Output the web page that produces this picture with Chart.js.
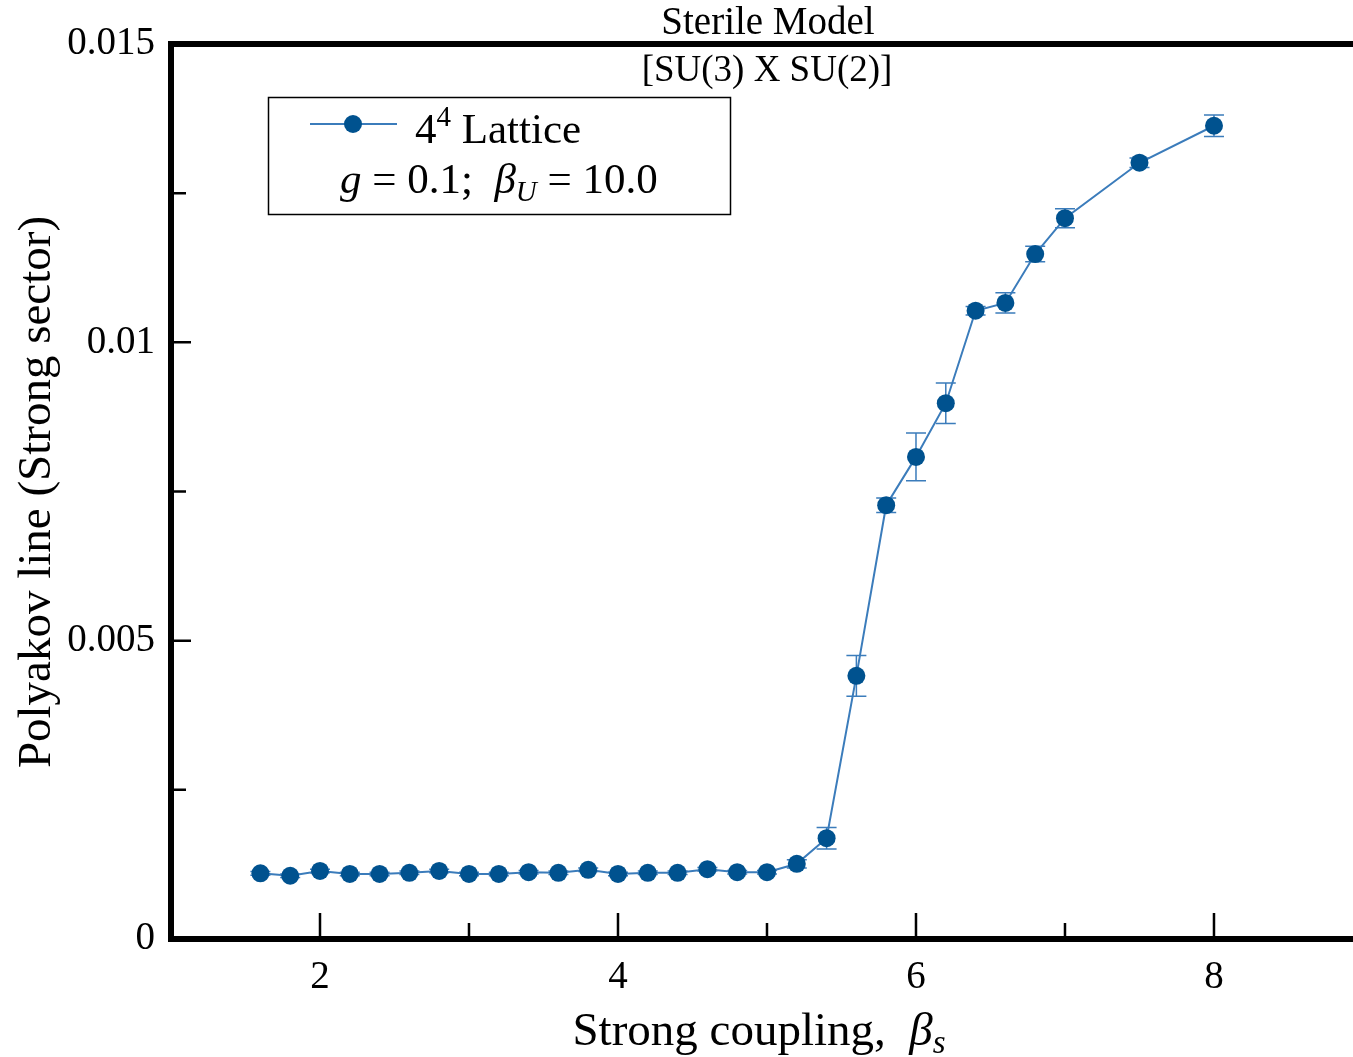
<!DOCTYPE html>
<html>
<head>
<meta charset="utf-8">
<script src="https://cdn.jsdelivr.net/npm/chart.js@4.4.0/dist/chart.umd.min.js"></script>
<style>
  html, body { margin: 0; padding: 0; background: #ffffff; }
  canvas { display: block; }
</style>
</head>
<body>
<canvas id="chart" width="1353" height="1057"></canvas>
<script>
// Strong coupling values and measured Polyakov line (strong sector) with errors
const betaS = [1.6, 1.8, 2.0, 2.2, 2.4, 2.6, 2.8, 3.0, 3.2, 3.4, 3.6, 3.8, 4.0, 4.2, 4.4,
               4.6, 4.8, 5.0, 5.2, 5.4, 5.6, 5.8, 6.0, 6.2, 6.4, 6.6, 6.8, 7.0, 7.5, 8.0];
const polyakov = [0.00110, 0.00106, 0.00114, 0.00109, 0.00109, 0.00111, 0.00114, 0.00109,
                  0.00109, 0.00112, 0.00111, 0.00116, 0.00109, 0.00111, 0.00111, 0.00117,
                  0.00112, 0.00112, 0.00126, 0.00169, 0.00441, 0.00727, 0.00808, 0.00898,
                  0.01053, 0.01066, 0.01148, 0.01208, 0.01301, 0.01363];
const polyakovErr = [0.00003, 0.00003, 0.00003, 0.00003, 0.00003, 0.00003, 0.00003, 0.00003,
                     0.00003, 0.00003, 0.00003, 0.00003, 0.00003, 0.00003, 0.00003, 0.00003,
                     0.00003, 0.00003, 0.00007, 0.00018, 0.00034, 0.00012, 0.00040, 0.00034,
                     0.00007, 0.00017, 0.00013, 0.00016, 0.00008, 0.00018];

// Axis ticks
const xMajorTicks = [2, 4, 6, 8];
const xTickLabels = ['2', '4', '6', '8'];
const xMinorTicks = [3, 5, 7];
const yMajorTicks = [0, 0.005, 0.01, 0.015];
const yTickLabels = ['0', '0.005', '0.01', '0.015'];
const yMinorTicks = [0.0025, 0.0075, 0.0125];

const markerColor = '#00528f';
const lineColor = '#3b7cbb';
const SERIF = '"Liberation Serif", "Times New Roman", serif';

Chart.defaults.font.family = SERIF;
Chart.defaults.color = '#000';

// Vertical error bars, drawn beneath the markers
const errorBars = {
  id: 'errorBars',
  beforeDatasetsDraw(chart) {
    const { ctx, scales: { x, y } } = chart;
    ctx.save();
    ctx.strokeStyle = lineColor;
    ctx.lineWidth = 1.5;
    betaS.forEach((b, i) => {
      const px = x.getPixelForValue(b);
      const lo = y.getPixelForValue(polyakov[i] - polyakovErr[i]);
      const hi = y.getPixelForValue(polyakov[i] + polyakovErr[i]);
      ctx.beginPath();
      ctx.moveTo(px, lo); ctx.lineTo(px, hi);
      ctx.moveTo(px - 10, lo); ctx.lineTo(px + 10, lo);
      ctx.moveTo(px - 10, hi); ctx.lineTo(px + 10, hi);
      ctx.stroke();
    });
    ctx.restore();
  }
};

// draw a run of text pieces with individual fonts and baseline shifts
function drawRuns(ctx, runs, x, y) {
  let cx = x;
  runs.forEach(r => {
    ctx.font = r.font;
    ctx.fillText(r.text, cx, y + (r.dy || 0));
    cx += ctx.measureText(r.text).width;
  });
  return cx;
}
function runsWidth(ctx, runs) {
  let w = 0;
  runs.forEach(r => { ctx.font = r.font; w += ctx.measureText(r.text).width; });
  return w;
}

// Frame, inward ticks, titles and legend
const decorations = {
  id: 'decorations',
  afterDraw(chart) {
    const { ctx, chartArea: a, scales: { x, y } } = chart;
    ctx.save();

    // thick frame: left, bottom, top
    ctx.strokeStyle = '#000';
    ctx.lineWidth = 6;
    ctx.lineCap = 'butt';
    ctx.beginPath();
    ctx.moveTo(a.left, a.top - 3); ctx.lineTo(a.left, a.bottom + 3);
    ctx.moveTo(a.left - 3, a.bottom); ctx.lineTo(chart.width, a.bottom);
    ctx.moveTo(a.left - 3, a.top); ctx.lineTo(chart.width, a.top);
    ctx.stroke();

    // inward tick marks
    ctx.lineWidth = 2.5;
    ctx.beginPath();
    xMajorTicks.forEach(v => { const p = x.getPixelForValue(v); ctx.moveTo(p, a.bottom); ctx.lineTo(p, a.bottom - 26); });
    xMinorTicks.forEach(v => { const p = x.getPixelForValue(v); ctx.moveTo(p, a.bottom); ctx.lineTo(p, a.bottom - 16); });
    yMajorTicks.forEach(v => { const p = y.getPixelForValue(v); ctx.moveTo(a.left, p); ctx.lineTo(a.left + 20, p); });
    yMinorTicks.forEach(v => { const p = y.getPixelForValue(v); ctx.moveTo(a.left, p); ctx.lineTo(a.left + 15, p); });
    ctx.stroke();

    ctx.fillStyle = '#000';
    ctx.textBaseline = 'alphabetic';

    // titles
    ctx.textAlign = 'center';
    ctx.font = '39px ' + SERIF;
    ctx.fillText('Sterile Model', 768, 34);
    ctx.font = '37px ' + SERIF;
    ctx.fillText('[SU(3) X SU(2)]', 767, 81);

    ctx.textAlign = 'left';

    // x axis title
    const xRuns = [
      { text: 'Strong coupling,  ', font: '47px ' + SERIF },
      { text: 'β', font: 'italic 47px ' + SERIF },
      { text: 's', font: 'italic 33px ' + SERIF, dy: 8 }
    ];
    const xw = runsWidth(ctx, xRuns);
    drawRuns(ctx, xRuns, 759 - xw / 2, 1045);

    // y axis title
    ctx.save();
    ctx.translate(50, 492);
    ctx.rotate(-Math.PI / 2);
    ctx.textAlign = 'center';
    ctx.font = '47px ' + SERIF;
    ctx.fillText('Polyakov line (Strong sector)', 0, 0);
    ctx.restore();

    // legend
    ctx.lineWidth = 1.5;
    ctx.strokeStyle = '#000';
    ctx.strokeRect(268.5, 97.5, 462, 117);
    ctx.strokeStyle = lineColor;
    ctx.lineWidth = 2;
    ctx.beginPath(); ctx.moveTo(310, 124); ctx.lineTo(397, 124); ctx.stroke();
    ctx.fillStyle = markerColor;
    ctx.beginPath(); ctx.arc(353, 124, 9, 0, Math.PI * 2); ctx.fill();
    ctx.fillStyle = '#000';
    drawRuns(ctx, [
      { text: '4', font: '43px ' + SERIF },
      { text: '4', font: '29px ' + SERIF, dy: -17 },
      { text: ' Lattice', font: '43px ' + SERIF }
    ], 415, 143);
    drawRuns(ctx, [
      { text: 'g', font: 'italic 43px ' + SERIF },
      { text: ' = 0.1;  ', font: '43px ' + SERIF },
      { text: 'β', font: 'italic 43px ' + SERIF },
      { text: 'U', font: 'italic 29px ' + SERIF, dy: 8 },
      { text: ' = 10.0', font: '43px ' + SERIF }
    ], 340, 193);

    ctx.restore();
  }
};

new Chart(document.getElementById('chart'), {
  type: 'line',
  data: {
    datasets: [{
      label: '4⁴ Lattice',
      data: betaS.map((b, i) => ({ x: b, y: polyakov[i] })),
      borderColor: lineColor,
      borderWidth: 2,
      pointBackgroundColor: markerColor,
      pointBorderColor: markerColor,
      pointBorderWidth: 0,
      pointRadius: 9,
      tension: 0,
      fill: false
    }]
  },
  options: {
    responsive: false,
    animation: false,
    devicePixelRatio: 1,
    layout: { autoPadding: false, padding: { top: 44, right: 0, left: 0, bottom: 0 } },
    plugins: { legend: { display: false }, tooltip: { enabled: false }, title: { display: false } },
    scales: {
      x: {
        type: 'linear',
        min: 1,
        max: 8.933,
        afterFit: s => { s.height = 118; s.paddingLeft = 0; s.paddingRight = 0; },
        afterBuildTicks: s => { s.ticks = xMajorTicks.map(v => ({ value: v })); },
        grid: { display: false, drawTicks: false },
        border: { display: false },
        ticks: {
          autoSkip: false, maxRotation: 0, padding: 15,
          font: { size: 39, family: SERIF }, color: '#000',
          callback: v => xTickLabels[xMajorTicks.indexOf(v)]
        }
      },
      y: {
        type: 'linear',
        min: 0,
        max: 0.015,
        afterFit: s => { s.width = 171; s.paddingTop = 0; s.paddingBottom = 0; },
        afterBuildTicks: s => { s.ticks = yMajorTicks.map(v => ({ value: v })); },
        grid: { display: false, drawTicks: false },
        border: { display: false },
        ticks: {
          autoSkip: false, padding: 16,
          font: { size: 39, family: SERIF }, color: '#000',
          callback: v => yTickLabels[yMajorTicks.indexOf(v)]
        }
      }
    }
  },
  plugins: [errorBars, decorations]
});
</script>
</body>
</html>
